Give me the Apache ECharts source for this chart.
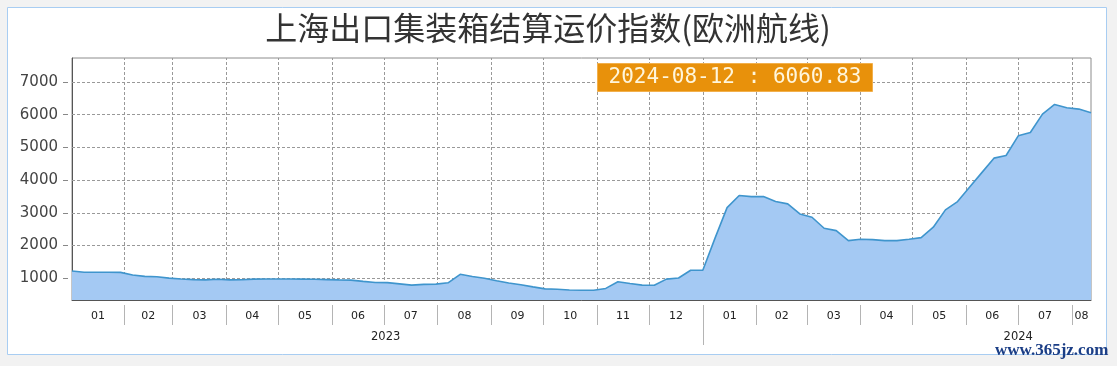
<!DOCTYPE html>
<html><head><meta charset="utf-8">
<script src="https://cdn.jsdelivr.net/npm/echarts@6/dist/echarts.min.js"></script>
<style>html,body{margin:0;padding:0;background:#f2f2f2;} #c{width:1117px;height:366px;}</style>
</head><body><div id="c"></div>
<script>
const titleText = '上海出口集装箱结算运价指数(欧洲航线)';
const watermark = 'www.365jz.com';
const dates = [
 '2023-01-02','2023-01-09','2023-01-16','2023-01-23','2023-01-30','2023-02-06','2023-02-13','2023-02-20','2023-02-27',
 '2023-03-06','2023-03-13','2023-03-20','2023-03-27','2023-04-03','2023-04-10','2023-04-17','2023-04-24',
 '2023-05-01','2023-05-08','2023-05-15','2023-05-22','2023-05-29','2023-06-05','2023-06-12','2023-06-19','2023-06-26',
 '2023-07-03','2023-07-10','2023-07-17','2023-07-24','2023-07-31','2023-08-07','2023-08-14','2023-08-21','2023-08-28',
 '2023-09-04','2023-09-11','2023-09-18','2023-09-25','2023-10-02','2023-10-09','2023-10-16','2023-10-23','2023-10-30',
 '2023-11-06','2023-11-13','2023-11-20','2023-11-27','2023-12-04','2023-12-11','2023-12-18','2023-12-25',
 '2024-01-01','2024-01-08','2024-01-15','2024-01-22','2024-01-29','2024-02-05','2024-02-12','2024-02-19','2024-02-26',
 '2024-03-04','2024-03-11','2024-03-18','2024-03-25','2024-04-01','2024-04-08','2024-04-15','2024-04-22','2024-04-29',
 '2024-05-06','2024-05-13','2024-05-20','2024-05-27','2024-06-03','2024-06-10','2024-06-17','2024-06-24',
 '2024-07-01','2024-07-08','2024-07-15','2024-07-22','2024-07-29','2024-08-05','2024-08-12'
];
const values = [
 1223,1184,1184,1184,1180,1100,1058,1045,1005,
 980,960,950,972,950,955,975,980,
 980,978,975,970,960,950,945,905,872,
 866,830,792,815,822,862,1122,1052,1000,
 925,858,802,738,676,665,642,636,636,
 690,892,838,792,786,975,1008,1245,
 1245,2220,3161,3530,3498,3498,3345,3274,2968,
 2867,2530,2457,2151,2194,2182,2151,2151,2194,
 2243,2561,3091,3345,3790,4230,4673,4753,
 5356,5457,6020,6314,6213,6173,6060.83
];
const yTicks = [1000,2000,3000,4000,5000,6000,7000];
const monthStarts = ['2023-02-01','2023-03-01','2023-04-01','2023-05-01','2023-06-01','2023-07-01','2023-08-01',
 '2023-09-01','2023-10-01','2023-11-01','2023-12-01','2024-01-01','2024-02-01','2024-03-01','2024-04-01',
 '2024-05-01','2024-06-01','2024-07-01','2024-08-01'];
const yearBreaks = ['2024-01-01'];
const yearLabelDates = ['2023-07-02','2024-07-01'];

const ts = s => { const p = s.split('-'); return Date.UTC(+p[0], +p[1]-1, +p[2]); };
const xMin = ts(dates[0]), xMax = ts(dates[dates.length-1]);
const monthTs = monthStarts.map(ts);
const bounds = [xMin].concat(monthTs).concat([xMax]);
const monthMids = [];
for (let i = 0; i < bounds.length-1; i++) monthMids.push((bounds[i]+bounds[i+1])/2);
const pad = n => (n < 10 ? '0' : '') + n;
const seriesData = dates.map((d,i)=>[ts(d), values[i]]);

const chart = echarts.init(document.getElementById('c'), null, {renderer:'canvas'});
const gridLine = {color:'#999', type:[3,2], width:1};
const baseX = {type:'value', min:xMin, max:xMax, position:'bottom', gridIndex:0, scale:true};
chart.setOption({
  animation:false,
  grid:{left:72, top:58, right:26, bottom:66, show:true, borderColor:'#8c8c8c', borderWidth:1, backgroundColor:'#fff'},
  graphic:[
    {type:'rect', z:-10, silent:true, shape:{x:7.5, y:7.5, width:1099, height:347}, style:{fill:'#fff', stroke:'#a8cdf2', lineWidth:1}},
    {type:'text', z:50, x:548, y:28, style:{text:titleText, fill:'#333', font:'32px "Noto Sans CJK SC"', align:'center', verticalAlign:'middle'}},
    {type:'rect', z:50, shape:{x:597.5, y:63.5, width:275, height:28}, style:{fill:'#e8910b', stroke:'#f2b04c', lineWidth:1}},
    {type:'text', z:51, x:735, y:78, style:{text:dates[dates.length-1] + ' : ' + values[values.length-1].toFixed(2), fill:'#fff6dc', font:'21px "DejaVu Sans Mono"', align:'center', verticalAlign:'middle'}},
    {type:'text', z:52, x:995, y:351, style:{text:watermark, fill:'#1b3e86', font:'bold 17px "Liberation Serif"', align:'left', verticalAlign:'middle'}}
  ],
  xAxis:[
    Object.assign({}, baseX, {
      axisLine:{show:true, lineStyle:{color:'#555', width:1}},
      axisTick:{show:false},
      axisLabel:{show:false},
      splitLine:{show:false}
    }),
    Object.assign({}, baseX, {
      offset:5,
      axisLine:{show:false},
      axisTick:{show:true, customValues:monthTs, length:20, lineStyle:{color:'#b4b4b4'}},
      axisLabel:{show:true, customValues:monthMids, margin:6, fontSize:11, color:'#222', fontFamily:'DejaVu Sans',
        formatter:v => pad(new Date(v).getUTCMonth()+1)},
      splitLine:{show:false}
    }),
    Object.assign({}, baseX, {
      offset:5,
      axisLine:{show:false},
      axisTick:{show:true, customValues:yearBreaks.map(ts), length:40, lineStyle:{color:'#b4b4b4'}},
      axisLabel:{show:true, customValues:yearLabelDates.map(ts), margin:26, fontSize:11.5, color:'#222', fontFamily:'DejaVu Sans',
        formatter:v => String(new Date(v).getUTCFullYear())},
      splitLine:{show:false}
    })
  ],
  yAxis:[
    {type:'value', min:336, max:7735, offset:4,
      axisLine:{show:false},
      axisTick:{show:true, customValues:yTicks, length:5, lineStyle:{color:'#888'}},
      axisLabel:{show:true, customValues:yTicks, margin:10, fontSize:15, color:'#444', fontFamily:'DejaVu Sans',
        formatter:v => String(v)},
      splitLine:{show:false}},
    {type:'value', min:336, max:7735, position:'left', offset:0,
      axisLine:{show:true, lineStyle:{color:'#555'}}, axisTick:{show:false}, axisLabel:{show:false}, splitLine:{show:false}}
  ],
  series:[
    {
      type:'line', xAxisIndex:0, yAxisIndex:0, showSymbol:false, symbol:'none', silent:true,
      data:seriesData, lineStyle:{opacity:0}, z:1,
      markLine:{
        silent:true, symbol:['none','none'], z:1, animation:false,
        label:{show:false},
        lineStyle:gridLine,
        data: yTicks.map(v=>({yAxis:v})).concat(monthTs.map(v=>({xAxis:v})))
      }
    },
    {
      type:'line', xAxisIndex:0, yAxisIndex:0, showSymbol:false, symbol:'none',
      data:seriesData,
      lineStyle:{color:'#3f95cd', width:1.6},
      areaStyle:{color:'#a4c9f3', opacity:1},
      z:10
    }
  ]
});
</script></body></html>
